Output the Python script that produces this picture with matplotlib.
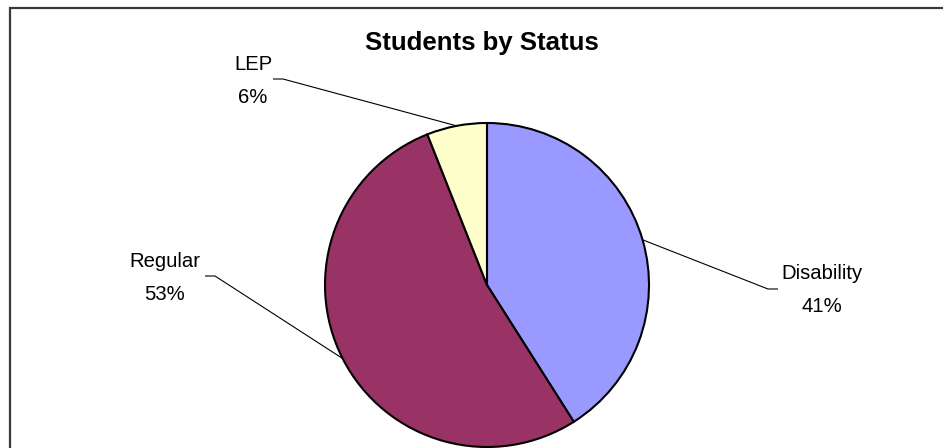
import numpy as np
import matplotlib
matplotlib.use("Agg")
import matplotlib.pyplot as plt
from matplotlib.patches import Rectangle

labels = ["Disability", "Regular", "LEP"]
shares = [41, 53, 6]
colors = ["#9999FF", "#993366", "#FFFFCC"]

# label text centres and leader elbows, in pixel units (y measured from top)
label_pos = [(822, 290), (164.5, 278), (253, 81)]
elbows = [((768, 289), (778, 289)), ((215, 276), (205, 276)), ((283, 79), (273, 79))]

W, H = 943, 448
plt.rcParams["font.family"] = ["Liberation Sans", "DejaVu Sans"]

fig = plt.figure(figsize=(W / 100, H / 100), dpi=100)
ax = fig.add_axes([0, 0, 1, 1])

cx, cy, r = 487, H - 285, 162
wedges, _ = ax.pie(shares, colors=colors, startangle=90, counterclock=False,
                   center=(cx, cy), radius=r, frame=True,
                   wedgeprops=dict(edgecolor="black", linewidth=1.5))
ax.set_xlim(0, W)
ax.set_ylim(0, H)
ax.set_aspect("equal")
ax.axis("off")

for w, lab, val, (tx, ty), (e1, e2) in zip(wedges, labels, shares, label_pos, elbows):
    mid = np.deg2rad((w.theta1 + w.theta2) / 2)
    px, py = cx + r * np.cos(mid), cy + r * np.sin(mid)
    ax.plot([px, e1[0], e2[0]], [py, H - e1[1], H - e2[1]], color="black", lw=0.8,
            solid_capstyle="butt", zorder=3)
    ax.text(tx, H - ty, f"{lab}\n{val}%", ha="center", va="center",
            fontsize=14.6, linespacing=1.87, color="black")

ax.text(482, H - 43, "Students by Status", ha="center", va="center",
        fontsize=18.5, fontweight="bold")

# chart border, running off the right and bottom edges
ax.add_patch(Rectangle((9.5, -20), 1000, H - 7.5 + 20, fill=False,
                       edgecolor="#3a3a3a", lw=1.6, zorder=5, clip_on=False))

fig.savefig("out.png", dpi=100)
